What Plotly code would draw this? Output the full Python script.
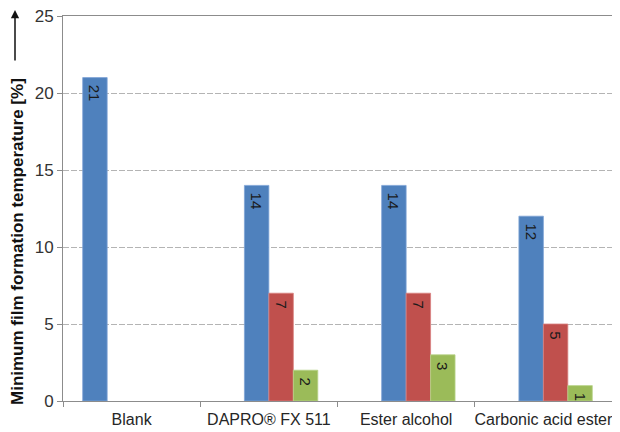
import plotly.graph_objects as go

categories = ["Blank", "DAPRO® FX 511", "Ester alcohol", "Carbonic acid ester"]
blank_values = [21, None, None, None]
series_blue = [None, 14, 14, 12]
series_red = [None, 7, 7, 5]
series_green = [None, 2, 3, 1]

BLUE = "#4F81BD"
RED = "#C0504D"
GREEN = "#9BBB59"

def fmt(vals):
    return ["" if v is None else "\u00a0" + str(v) for v in vals]

fig = go.Figure()
for vals, col, edge in [
    (blank_values, BLUE, "#7FA3D6"),
    (series_blue, BLUE, "#7FA3D6"),
    (series_red, RED, "#D98280"),
    (series_green, GREEN, "#B9D38A"),
]:
    fig.add_trace(go.Bar(
        x=categories, y=vals, text=fmt(vals),
        marker=dict(color=col, line=dict(color=edge, width=0.8)),
        textposition="inside", insidetextanchor="end", textangle=90,
        constraintext="none",
        textfont=dict(family="Liberation Sans, Arial, sans-serif", size=15, color="#1a1a1a"),
        hoverinfo="skip", showlegend=False,
    ))

# page body adds an 8px margin; figure sized to fill the rest of the window
fig.update_layout(
    width=612, height=424,
    margin=dict(l=55, r=8, t=8, b=31),
    barmode="group", bargap=0.287, bargroupgap=0,
    plot_bgcolor="white", paper_bgcolor="white",
    font=dict(family="Liberation Sans, Arial, sans-serif", size=17, color="#333333"),
)
fig.update_xaxes(
    showline=True, linecolor="#8c8c8c", linewidth=1, mirror=True,
    ticks="outside", tickson="boundaries", ticklen=5, tickcolor="#8c8c8c",
    showgrid=False, tickfont=dict(size=16, color="#262626"),
    tickangle=0, automargin=False, ticklabeloverflow="allow",
    ticklabelstandoff=4,
)
fig.update_yaxes(
    range=[0, 25], tickvals=[0, 5, 10, 15, 20, 25],
    showline=True, linecolor="#8c8c8c", linewidth=1, mirror=True,
    ticks="outside", ticklen=5, tickcolor="#8c8c8c",
    showgrid=True, gridcolor="#b4b4b4", griddash="6px,2px", gridwidth=1,
    zeroline=False, tickfont=dict(size=17, color="#333333"),
    automargin=False, ticklabeloverflow="allow",
)

fig.add_annotation(
    text="<b>Minimum film formation temperature [%]</b>",
    xref="paper", yref="paper", x=-46/549, y=(393-234)/385,
    xanchor="center", yanchor="middle", textangle=-90, showarrow=False,
    font=dict(size=17, color="#111111"),
)
fig.add_annotation(
    xref="paper", yref="paper", x=-48/549, y=(393-2)/385,
    ax=0, ay=52, text="", showarrow=True, arrowhead=2, arrowsize=1.1,
    arrowwidth=1.5, arrowcolor="#111111",
)

fig.write_html("out.html")
